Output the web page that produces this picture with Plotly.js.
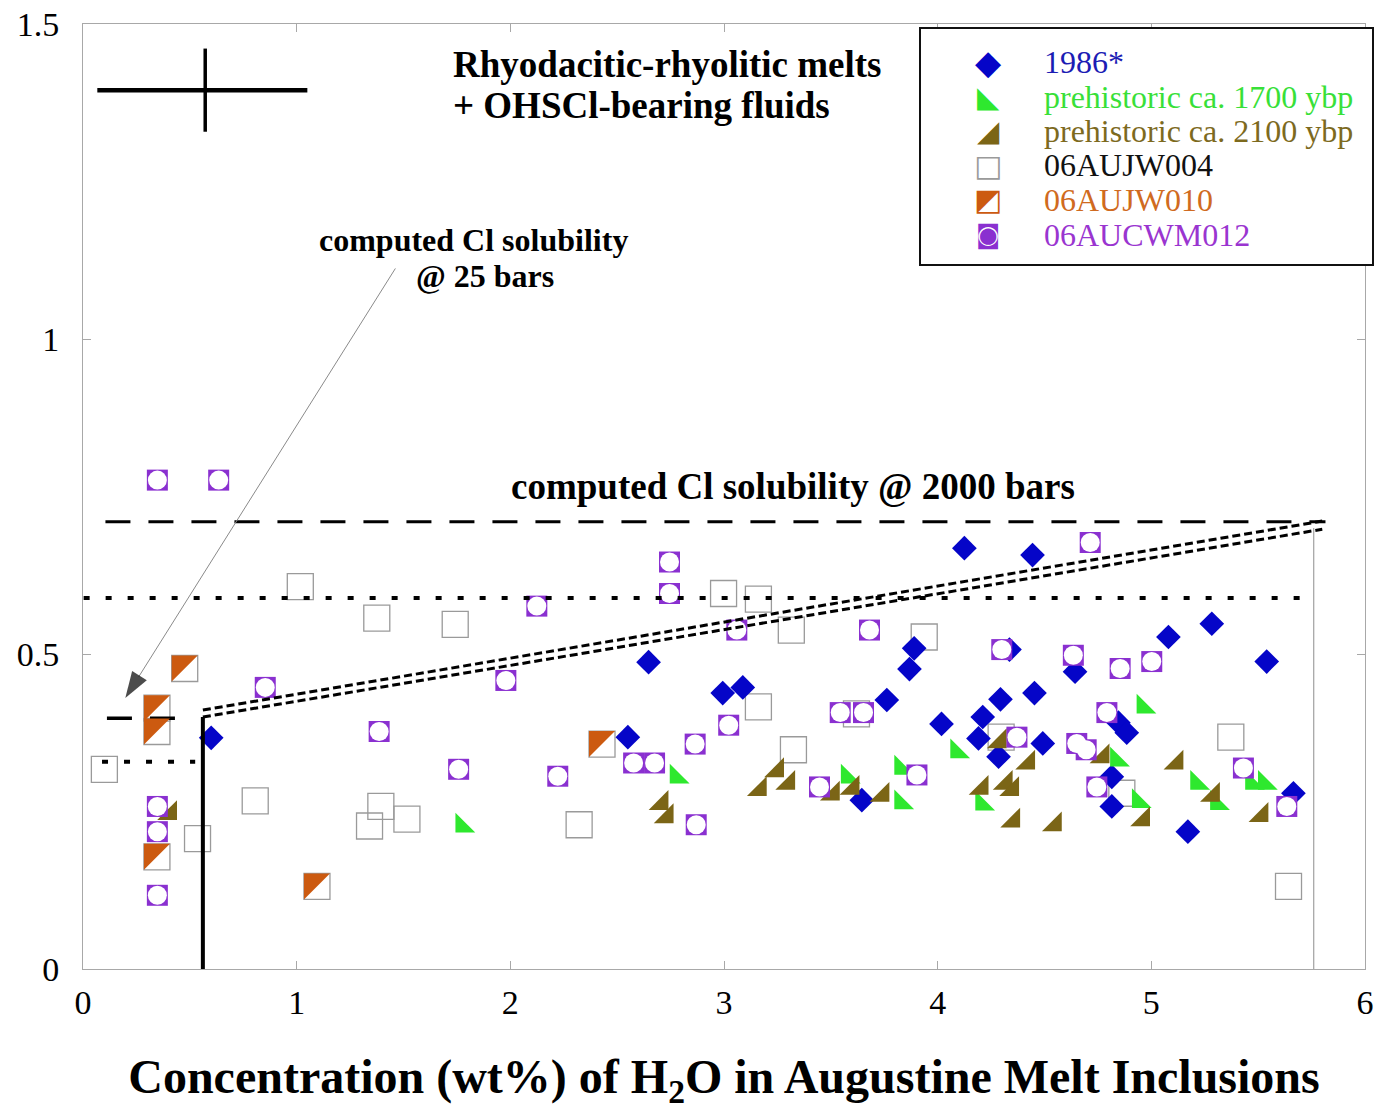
<!DOCTYPE html>
<html><head><meta charset="utf-8">
<script src="https://cdn.plot.ly/plotly-3.0.1.min.js"></script>
<style>html,body{margin:0;padding:0;background:#fff;}</style>
</head><body>
<div id="chart" style="width:1379px;height:1118px;"></div>
<script>
// ---------------- data ----------------
const seriesNames = ['1986*', 'prehistoric ca. 1700 ybp', 'prehistoric ca. 2100 ybp', '06AUJW004', '06AUJW010', '06AUCWM012'];

const blueX = [0.60, 2.55, 2.647, 2.994, 3.088, 4.125, 4.444, 3.89, 3.868, 3.762, 4.018, 4.211, 4.191, 4.294, 4.453, 4.285, 4.492, 3.645, 4.336, 4.643, 5.08, 5.283, 5.54, 4.846, 4.885, 4.815, 4.815, 5.171, 5.665];
const blueY = [0.367, 0.368, 0.487, 0.438, 0.447, 0.668, 0.657, 0.509, 0.476, 0.427, 0.389, 0.40, 0.366, 0.428, 0.438, 0.337, 0.358, 0.268, 0.507, 0.472, 0.527, 0.548, 0.488, 0.391, 0.375, 0.305, 0.258, 0.218, 0.279];

const greenX = [1.774, 2.777, 4.09, 3.828, 3.578, 3.828, 4.207, 4.962, 4.838, 5.213, 5.306, 5.47, 5.53, 4.94];
const greenY = [0.227, 0.305, 0.345, 0.319, 0.305, 0.264, 0.262, 0.416, 0.332, 0.295, 0.263, 0.295, 0.295, 0.266];

const oliveX = [0.409, 2.709, 2.733, 3.169, 3.25, 3.302, 3.511, 3.603, 3.743, 4.207, 4.32, 4.35, 4.425, 4.292, 4.355, 4.55, 4.773, 5.119, 5.29, 5.517, 4.963];
const oliveY = [0.247, 0.263, 0.242, 0.285, 0.315, 0.295, 0.278, 0.287, 0.276, 0.287, 0.295, 0.285, 0.327, 0.361, 0.235, 0.229, 0.337, 0.327, 0.276, 0.244, 0.237];

const grayX = [1.017, 0.10, 0.806, 0.536, 1.375, 1.742, 1.394, 1.341, 1.516, 2.998, 3.161, 3.315, 3.161, 3.325, 2.322, 3.937, 4.297, 3.62, 5.372, 4.862, 5.642];
const grayY = [0.607, 0.317, 0.267, 0.207, 0.557, 0.547, 0.258, 0.227, 0.238, 0.596, 0.587, 0.538, 0.416, 0.348, 0.229, 0.527, 0.368, 0.405, 0.368, 0.279, 0.131];

const orangeX = [0.476, 0.346, 0.346, 0.346, 1.095, 2.429];
const orangeY = [0.477, 0.414, 0.377, 0.178, 0.131, 0.357];

const purpleX = [0.348, 0.635, 0.853, 0.348, 0.348, 0.348, 1.386, 1.758, 1.979, 2.124, 2.745, 2.745, 3.06, 3.022, 2.865, 2.577, 2.675, 2.222, 2.87, 3.681, 4.30, 4.635, 4.714, 3.544, 3.653, 4.371, 4.651, 4.695, 3.903, 3.447, 4.745, 4.854, 5.002, 4.792, 5.431, 5.634];
const purpleY = [0.776, 0.776, 0.447, 0.258, 0.218, 0.117, 0.377, 0.317, 0.458, 0.576, 0.646, 0.596, 0.538, 0.387, 0.357, 0.327, 0.327, 0.306, 0.229, 0.538, 0.507, 0.498, 0.677, 0.407, 0.407, 0.368, 0.358, 0.348, 0.308, 0.289, 0.289, 0.477, 0.488, 0.407, 0.319, 0.258];

// computed solubility reference lines
const sol2000X = [0.105, 5.815], sol2000Y = [0.71, 0.71];
const dot059X = [0.003, 5.73],  dot059Y = [0.589, 0.589];
const sol25X  = [0.112, 0.432], sol25Y  = [0.398, 0.398];
const dot033X = [0.089, 0.525], dot033Y = [0.329, 0.329];
const vertX   = [0.561, 0.561], vertY   = [0, 0.40];
const trendAX = [0.561, 5.80],  trendAY = [0.411, 0.711];
const trendBX = [0.561, 5.80],  trendBY = [0.400, 0.698];
const edgeX   = [5.76, 5.76],   edgeY   = [0, 0.70];
// pointer from the "@ 25 bars" label to the 25-bar level
const pointerX = [1.462, 0.198], pointerY = [1.112, 0.43];

// analytical uncertainty cross
const errX = [0.572], errY = [1.395], errXPlus = [0.478], errXMinus = [0.505], errYHalf = [0.066];

const xTickVals = [0, 1, 2, 3, 4, 5, 6];
const yTickVals = [0, 0.5, 1, 1.5];
const yTickText = ['0', '0.5', '1', '1.5'];

// ---------------- styles ----------------
const FONT = 'Liberation Serif, Times New Roman, serif';
const C = {blue:'#0505c8', green:'#2ee82e', olive:'#7b6516', gray:'#9a9a9a', orange:'#cc5a10', purple:'#8a30d0'};
const legendColors = ['#1c1cb4', '#38e038', '#7d6a1e', '#111111', '#d06a20', '#9a35d0'];

const L = 83, T = 24, W = 1282, H = 945;
const SQ = 26; // square marker size (px)
const triSize = SQ / 0.9;
const shiftPx = triSize / 2 * 0.6 - SQ / 2; // negative -> move left/up
const dx = -shiftPx / W * 6, dy = -shiftPx / H * 1.5;

function line(x, y, width, dash, color) {
  return {x, y, type:'scatter', mode:'lines', hoverinfo:'skip', showlegend:false,
          line:{color: color || '#000', width, dash}};
}
function mk(x, y, symbol, size, color, lineColor, lineWidth, extra) {
  return Object.assign({x, y, type:'scatter', mode:'markers', showlegend:false,
    marker:{symbol, size, color, line:{color: lineColor || color, width: lineWidth || 0}}}, extra || {});
}

const traces = [
  mk(grayX, grayY, 'square-open', SQ, C.gray, C.gray, 1.3),
  mk(orangeX, orangeY, 'square-open', SQ, C.gray, C.gray, 1.3),
  mk(blueX, blueY, 'diamond', 19, C.blue),
  mk(greenX, greenY, 'triangle-sw', 22, C.green),
  mk(oliveX, oliveY, 'triangle-se', 22, C.olive),
  mk(purpleX, purpleY, 'square', 21, C.purple),
  mk(purpleX, purpleY, 'circle', 19, '#ffffff'),
  line(sol2000X, sol2000Y, 3, '25px,18px'),
  line(dot059X, dot059Y, 4, '6px,16px'),
  line(sol25X, sol25Y, 3.5, '25px,18px'),
  line(dot033X, dot033Y, 4, '6px,16px'),
  line(vertX, vertY, 4, 'solid'),
  line(trendAX, trendAY, 3, '8px,4px'),
  line(trendBX, trendBY, 3, '8px,4px'),
  line(edgeX, edgeY, 1.2, 'solid', '#a0a0a0'),
  {x: pointerX, y: pointerY, type:'scatter', mode:'lines+markers', showlegend:false, hoverinfo:'skip',
   line:{color:'#8a8a8a', width:1},
   marker:{symbol:'arrow', angleref:'previous', size:[0, 28], color:['rgba(0,0,0,0)', '#000'], line:{width:0}}},
  {x: errX, y: errY, type:'scatter', mode:'markers', showlegend:false, hoverinfo:'skip',
   marker:{size:1, color:'rgba(0,0,0,0)'},
   error_x:{type:'data', symmetric:false, array:errXPlus, arrayminus:errXMinus, color:'#000', thickness:4.5, width:0},
   error_y:{type:'data', array:errYHalf, color:'#000', thickness:3.5, width:0}},
  // orange half of 06AUJW010 markers, on a pixel-aligned overlay scale
  Object.assign(mk(orangeX, orangeY, 'triangle-nw', triSize, C.orange), {xaxis:'x2', yaxis:'y2'})
];

function px(xp) { return (xp - L) / W; }
function py(yp) { return (T + H - yp) / H; }

const anns = [];
function txt(text, xPix, yPix, size, bold, color, anchor, family) {
  anns.push({text, xref:'paper', yref:'paper', x: px(xPix), y: py(yPix), xanchor: anchor || 'left', yanchor:'middle',
    showarrow:false, borderpad:0,
    font:{family: family || FONT, size, color: color || '#000', weight: bold ? 'bold' : 'normal'}});
}
txt('Rhyodacitic-rhyolitic melts', 452, 64, 37, true);
txt('+ OHSCl-bearing fluids', 452, 106, 37, true);
txt('computed Cl solubility', 318, 240, 32, true);
txt('@ 25 bars', 415, 276, 32, true);
txt('computed Cl solubility @ 2000 bars', 510, 486, 37, true);

// legend
const legRowY = [62, 97, 131, 165, 200, 235];
const legSym = [['\u25C6', C.blue, 34], ['\u25E3', C.green, 29], ['\u25E2', C.olive, 29],
                ['\u25A1', C.gray, 30], ['\u25E9', C.orange, 30], ['\u25D9', C.purple, 25]];
seriesNames.forEach((name, i) => {
  txt(name, 1043, legRowY[i], 32, false, legendColors[i]);
  txt(legSym[i][0], 988, legRowY[i], legSym[i][2], false, legSym[i][1], 'center', 'DejaVu Sans');
});

const axisCommon = {showline:true, linecolor:'#a8a8a8', linewidth:1, mirror:'ticks', ticks:'inside', ticklen:8,
  tickcolor:'#a8a8a8', tickwidth:1, showgrid:false, zeroline:false, fixedrange:true,
  tickfont:{family:FONT, size:34, color:'#000'}};

const layout = {
  width:1379, height:1118, margin:{l:L, r:1379-L-W, t:T, b:1118-T-H, autoexpand:false},
  paper_bgcolor:'#fff', plot_bgcolor:'#fff', showlegend:false,
  xaxis: Object.assign({}, axisCommon, {range:[0,6], tickvals:xTickVals, ticklabelstandoff:3, automargin:false,
    title:{text:'Concentration (wt%) of H<sub>2</sub>O in Augustine Melt Inclusions', standoff:39,
      font:{family:FONT, size:48, weight:'bold', color:'#000'}}}),
  yaxis: Object.assign({}, axisCommon, {range:[0,1.5], tickvals:yTickVals, ticktext:yTickText, ticklabelstandoff:16, automargin:false}),
  xaxis2: {overlaying:'x', anchor:'y2', range:[dx, 6+dx], visible:false, fixedrange:true},
  yaxis2: {overlaying:'y', anchor:'x2', range:[-dy, 1.5-dy], visible:false, fixedrange:true},
  shapes:[{type:'rect', xref:'paper', yref:'paper', x0:px(920), x1:px(1373), y0:py(265), y1:py(28),
    line:{color:'#111', width:2}, fillcolor:'#fff', layer:'above'}],
  annotations: anns
};

Plotly.newPlot('chart', traces, layout, {displayModeBar:false, staticPlot:true});
</script></body></html>
